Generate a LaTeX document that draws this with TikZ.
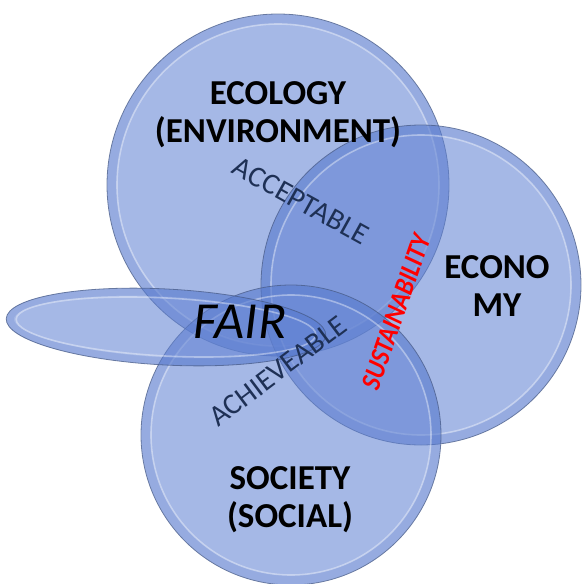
\documentclass[tikz,border=0pt]{standalone}
\usepackage{fontspec}
\setmainfont{Carlito}
\definecolor{bubblefill}{RGB}{95,128,210}
\definecolor{bubblerim}{RGB}{70,90,135}
\definecolor{bevelband}{RGB}{60,100,190}
\definecolor{softnavy}{RGB}{30,48,85}
\tikzset{
  rimline/.style={draw=bubblerim, draw opacity=0.75, line width=0.8pt},
  bevelring/.style={draw=bevelband, draw opacity=0.14, line width=9pt},
  gleamline/.style={draw=white, draw opacity=0.38, line width=1.6pt},
  bigword/.style={font=\bfseries\fontsize{35}{38}\selectfont, align=center, text=black},
  midword/.style={font=\fontsize{29.5}{31}\selectfont, text=softnavy},
}
\newcommand\vennbubble[3]{%
  \fill[bubblefill, fill opacity=0.56] (#1,#2) circle[radius=#3];
  \draw[bevelring] (#1,#2) circle[radius=#3-5];
  \draw[gleamline] (#1,#2) circle[radius=#3-10];
  \draw[rimline] (#1,#2) circle[radius=#3];
}
\begin{document}
\begin{tikzpicture}[x=1pt,y=-1pt]
\useasboundingbox (0,0) rectangle (584,584);

% the three pillars
\vennbubble{278}{185}{171}
\vennbubble{421}{285}{160}
\vennbubble{291}{435}{150}

% the flat lens carrying FAIR
\begin{scope}[shift={(166,327)}, rotate=-3]
  \fill[bubblefill, fill opacity=0.56] (0,0) ellipse[x radius=160, y radius=38];
  \draw[bevelring, line width=7pt] (0,0) ellipse[x radius=156, y radius=34];
  \draw[gleamline] (0,0) ellipse[x radius=150, y radius=29];
  \draw[rimline] (0,0) ellipse[x radius=160, y radius=38];
\end{scope}

% labels
\node[bigword] (ecology) at (278,115) {ECOLOGY\\(ENVIRONMENT)};
\node[bigword] (economy) at (497,286) {ECONO\\MY};
\node[bigword] (society) at (290,500) {SOCIETY\\(SOCIAL)};
\node[font=\itshape\fontsize{52}{54}\selectfont] (fair) at (240,322) {FAIR};
\node[midword, rotate=-29] (acceptable) at (301,201) {ACCEPTABLE};
\node[midword, rotate=37] (achieveable) at (278,371) {ACHIEVEABLE};
\node[font=\bfseries\itshape\fontsize{28}{30}\selectfont, text=red, rotate=71] (sustain) at (396,312) {\scalebox{0.87}[1]{SUSTAINABILITY}};
\end{tikzpicture}
\end{document}
